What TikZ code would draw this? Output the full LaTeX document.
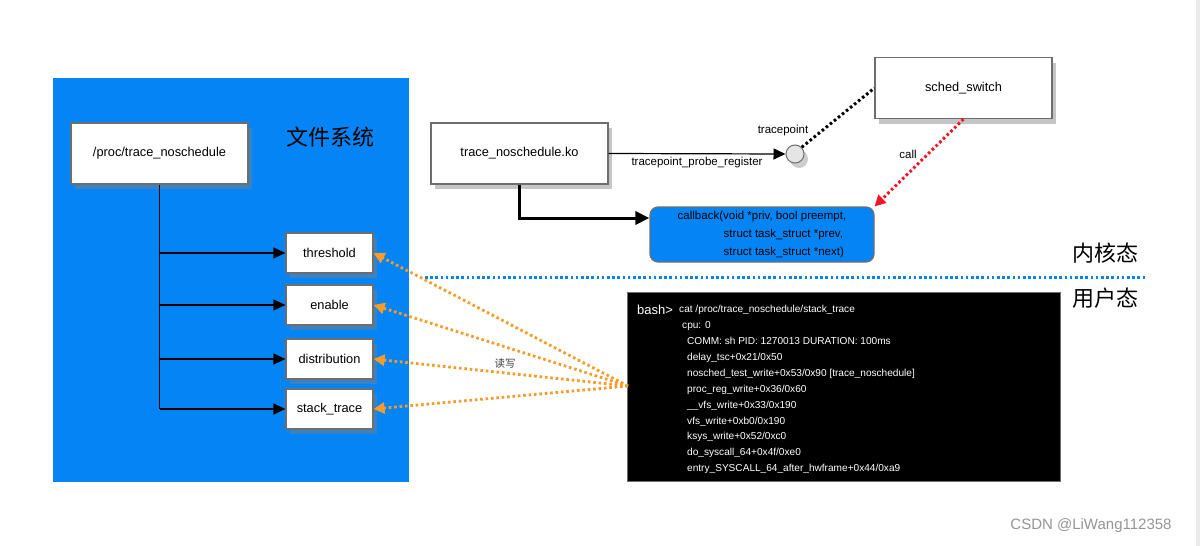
\documentclass[tikz,border=0pt]{standalone}
\usepackage{fontspec}
\setmainfont{Liberation Sans}
\newfontfamily\cjk{Noto Sans CJK SC}
\usetikzlibrary{arrows.meta,shadows}
\definecolor{fsblue}{RGB}{5,133,245}
\definecolor{frame}{RGB}{110,110,110}
\definecolor{rwor}{RGB}{250,155,40}
\definecolor{callred}{RGB}{245,20,35}
\definecolor{mark}{RGB}{150,150,150}

\begin{document}
\begin{tikzpicture}
            [x=1pt,y=-1pt,
             box/.style={draw=frame,line width=1.2pt,fill=white,font=\fontsize{12.8}{14}\selectfont,
                         drop shadow={shadow xshift=4pt,shadow yshift=-5pt,opacity=.45}},
             bigbox/.style={box,minimum width=177pt,minimum height=61pt},
             filebox/.style={box,minimum width=87pt,minimum height=40pt},
             lbl/.style={font=\fontsize{11.5}{13}\selectfont},
             han/.style={font=\cjk\fontsize{22}{24}\selectfont},
             tip/.style={-{Triangle[length=12pt,width=11pt]}},
             rw/.style={draw=rwor,line width=2.8pt,dash pattern=on 2.6pt off 2.8pt,
                        -{Triangle[length=11pt,width=11pt,fill=rwor]}},
             term/.style={text=white,inner sep=0pt,anchor=west,text height=7.5pt,text depth=2pt,
                          font=\fontsize{10.1}{12}\selectfont}]
            \useasboundingbox (0,0) rectangle (1200,546);
            \fill[white] (0,0) rectangle (1200,546);
            \fill[black!8] (1196,0) rectangle (1200,546);
            % file system
            \fill[fsblue] (53,78) rectangle (409,482);
            \node[han] (fs) at (330,137) {文件系统};
            \node[bigbox] (proc) at (159.5,153.5) {/proc/trace\_noschedule};
            \node[filebox] (thr) at (329.5,253) {threshold};
            \node[filebox] (ena) at (329.5,305) {enable};
            \node[filebox] (dis) at (329.5,359) {distribution};
            \node[filebox] (stk) at (329.5,409) {stack\_trace};
            \draw[line width=1.2pt] (proc.south) -- (proc.south |- stk.west);
            \foreach \f in {thr,ena,dis,stk}
                \draw[line width=1.2pt,tip] (proc.south |- \f.west) -- (\f.west);
            % kernel side
            \node[bigbox] (ko) at (519.5,153.5) {trace\_noschedule.ko};
            \node[bigbox] (sched) at (963.5,88) {sched\_switch};
            \node[circle,draw=frame,line width=1pt,fill=black!10,minimum size=18pt,inner sep=0pt,
                  drop shadow={shadow xshift=4pt,shadow yshift=-5pt,opacity=.4}] (tp) at (795,154) {};
            \node[lbl] (tpl) at (783,131) {tracepoint};
            \node[draw=frame,line width=1.2pt,fill=fsblue,rounded corners=8pt,minimum width=224pt,
                  minimum height=55pt,align=left,font=\fontsize{11.5}{18}\selectfont] (cb) at (762,234.5)
                 {callback(void *priv, bool preempt,\\
                  \hspace*{46pt}struct task\_struct *prev,\\
                  \hspace*{46pt}struct task\_struct *next)};
            \draw[line width=1.2pt,tip] (ko.east) -- (tp.west)
                node[lbl,midway,below=-1pt] (reg) {tracepoint\_probe\_register};
            \draw[line width=3pt,dash pattern=on 2.6pt off 2.6pt] (tp.north east) -- (sched.west);
            \draw[line width=3pt,dash pattern=on 2.6pt off 2.6pt,draw=callred,
                  -{Triangle[length=11pt,width=11pt,fill=callred]}] (sched.south) -- (cb.north east);
            \node[lbl] (call) at (908,154) {call};
            \draw[line width=3pt,-{Triangle[length=14pt,width=13pt]}] (ko.south) |- (cb.west |- 0,218);
            % kernel / user boundary
            \coordinate (kl) at (425,277);
            \coordinate (kr) at (1147,277);
            \draw[draw=fsblue,line width=3pt,dash pattern=on 2.6pt off 2.6pt] (kl) -- (kr);
            \node[han] (kern) at (1105,253) {内核态};
            \node[han] (user) at (1105,298) {用户态};
            % terminal
            \node[fill=black,draw=frame,line width=1pt,minimum width=433pt,minimum height=189pt] (sh) at (843.5,386.5) {};
            \node[term,font=\fontsize{13}{15}\selectfont] (bash) at (637,312) {bash>};
            \node[term] (cmd) at (679,310) {cat /proc/trace\_noschedule/stack\_trace};
            \node[term] (cpu) at (682,325.9) {cpu: 0};
            \foreach \txt [count=\i from 2] in {COMM: sh PID: 1270013 DURATION: 100ms,
                    delay\_tsc+0x21/0x50,
                    nosched\_test\_write+0x53/0x90 [trace\_noschedule],
                    proc\_reg\_write+0x36/0x60,
                    \_\_vfs\_write+0x33/0x190,
                    vfs\_write+0xb0/0x190,
                    ksys\_write+0x52/0xc0,
                    do\_syscall\_64+0x4f/0xe0,
                    entry\_SYSCALL\_64\_after\_hwframe+0x44/0xa9}
                \node[term] (ln\i) at (687,310+15.9*\i) {\txt};
            % read / write
            \coordinate (rwsrc) at (628,386);
            \foreach \f in {thr,ena,dis,stk}
                \draw[rw] (rwsrc) -- (\f.east);
            \node[font=\cjk\fontsize{10.5}{12}\selectfont,text=black!75] (rwl) at (505,364) {读写};
            \node[font=\fontsize{15}{17}\selectfont,text=mark] (wm) at (1091,526) {CSDN @LiWang112358};
        \end{tikzpicture}
\end{document}
